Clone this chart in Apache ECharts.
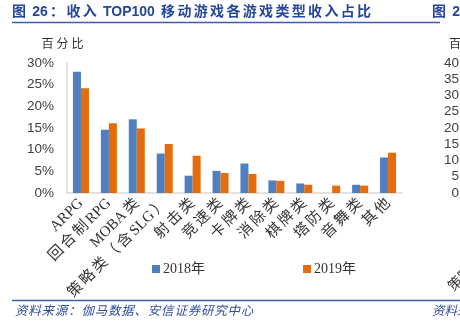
<!DOCTYPE html>
<html>
<head>
<meta charset="utf-8">
<script src="https://cdn.jsdelivr.net/npm/echarts@6/dist/echarts.min.js"></script>
<style>
html,body{margin:0;padding:0;background:#fff;}
#c{width:460px;height:327px;}
</style>
</head>
<body>
<div id="c"></div>
<script>
const categories = ['ARPG','回合制RPG','MOBA类','策略类（含SLG）','射击类','竞速类','卡牌类','消除类','棋牌类','塔防类','音舞类','其他'];
const seriesNames = ['2018年','2019年'];
const values2018 = [28.0, 14.6, 17.0, 9.1, 4.0, 5.1, 6.8, 2.9, 2.2, 0, 1.9, 8.2];
const values2019 = [24.2, 16.1, 14.9, 11.3, 8.6, 4.6, 4.4, 2.8, 1.9, 1.7, 1.7, 9.3];
const yMax = 30, yStep = 5;
const rightYMax = 40, rightYStep = 5;
const titleText = '图 26：收入 TOP100 移动游戏各游戏类型收入占比';
const title2Text = '图 27：';
const sourceText = '资料来源：伽马数据、安信证券研究中心';

// insert a thin space after every non-ASCII character (letter-spacing for CJK)
function cjkSpaced(s, sp){
  let out = '';
  const chars = s.split('');
  chars.forEach((c, i) => {
    out += c;
    const n = chars[i+1];
    if (n === undefined) return;
    const isA = /[\x00-\x7F]/.test(c), nA = /[\x00-\x7F]/.test(n);
    if (!(isA && nA)) out += sp;
  });
  return out;
}

const chart = echarts.init(document.getElementById('c'), null, {renderer:'canvas'});
const blue = '#4F7FC0', orange = '#E46C0A';
const lineBlue = '#3B5EAD';
const titleColor = '#24479A';
const serif = '"Liberation Serif","Noto Sans CJK SC",serif';
const sans = '"Liberation Sans","Noto Sans CJK SC",sans-serif';

chart.setOption({
  animation:false,
  backgroundColor:'#fff',
  grid:[
    {left:67, right:58, top:63, bottom:134},
    {left:470, width:60, top:63, bottom:134}
  ],
  legend:{
    left:147, top:257, itemWidth:8, itemHeight:8, itemGap:98,
    icon:'rect',
    textStyle:{fontFamily:serif, fontSize:14, color:'#333', padding:[0,0,0,-2]},
    data:seriesNames
  },
  xAxis:[
    {type:'category', gridIndex:0, data:categories,
     axisLine:{lineStyle:{color:'#D9D9D9', width:1.5}},
     axisTick:{show:false},
     axisLabel:{rotate:45, interval:0, margin:8, fontFamily:serif, fontSize:15, color:'#333',
       formatter:(v)=>cjkSpaced(v,'\u2006')}
    },
    {type:'category', gridIndex:1, data:[''], axisLine:{show:false}, axisTick:{show:false}, axisLabel:{show:false}}
  ],
  yAxis:[
    {type:'value', gridIndex:0, min:0, max:yMax, interval:yStep,
     name:cjkSpaced('百分比',' '), nameLocation:'end', nameGap:12,
     nameTextStyle:{fontFamily:serif, fontSize:12, color:'#333', padding:[0,9,0,0]},
     axisLine:{show:true, lineStyle:{color:'#D9D9D9', width:1.5}},
     axisTick:{show:false},
     splitLine:{show:false},
     axisLabel:{formatter:'{value}%', fontFamily:sans, fontSize:13.5, color:'#404040', margin:13}
    },
    {type:'value', gridIndex:1, min:0, max:rightYMax, interval:rightYStep,
     name:cjkSpaced('百分比',' '), nameLocation:'end', nameGap:12,
     nameTextStyle:{fontFamily:serif, fontSize:12, color:'#333'},
     axisLine:{show:false}, axisTick:{show:false}, splitLine:{show:false},
     axisLabel:{fontFamily:sans, fontSize:13.5, color:'#404040', margin:11}
    }
  ],
  series:[
    {name:seriesNames[0], type:'bar', xAxisIndex:0, yAxisIndex:0, data:values2018,
     barWidth:8, barGap:'0%', itemStyle:{color:blue}},
    {name:seriesNames[1], type:'bar', xAxisIndex:0, yAxisIndex:0, data:values2019,
     barWidth:8, barGap:'0%', itemStyle:{color:orange}}
  ],
  graphic:[
    {type:'text', left:12, top:5, style:{text:cjkSpaced(titleText,'\u2006'), font:'bold 14px "Liberation Sans","Noto Sans CJK SC",sans-serif', fill:titleColor}},
    {type:'text', left:432, top:5, style:{text:cjkSpaced(title2Text,'\u2006'), font:'bold 14px "Liberation Sans","Noto Sans CJK SC",sans-serif', fill:titleColor}},
    {type:'line', shape:{x1:12, y1:22.5, x2:440, y2:22.5}, style:{stroke:lineBlue, lineWidth:1.5}},
    {type:'line', shape:{x1:12, y1:300.5, x2:460, y2:300.5}, style:{stroke:lineBlue, lineWidth:1.5}},
    {type:'text', left:15, top:304, style:{text:cjkSpaced(sourceText,'\u200A'), font:'italic 12.5px "Noto Sans CJK SC",sans-serif', fill:'#2F4D9A'}},
    {type:'text', left:432, top:304, style:{text:'资料来源：', font:'italic 12.5px "Noto Sans CJK SC",sans-serif', fill:'#2F4D9A'}},
    {type:'text', x:450, y:288, rotation:Math.PI/4, style:{text:'策略类', font:'14px "Noto Sans CJK SC",serif', fill:'#333', align:'left', verticalAlign:'middle'}}
  ]
});
</script>
</body>
</html>
